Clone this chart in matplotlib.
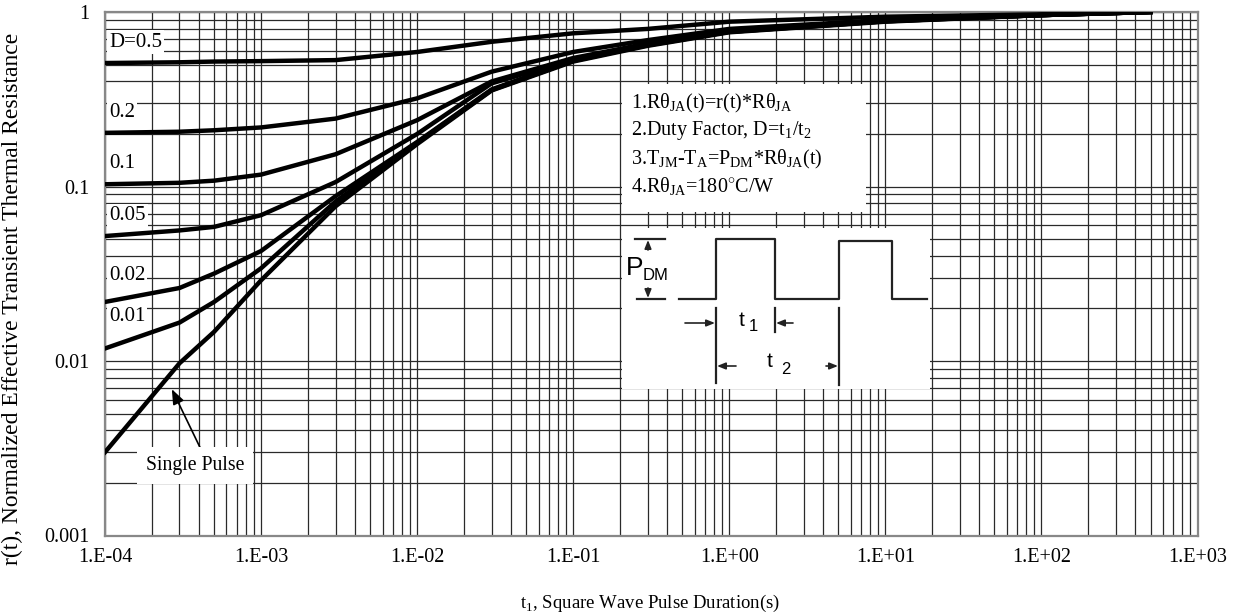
import numpy as np
import matplotlib.pyplot as plt
from matplotlib.patches import Rectangle
from matplotlib.ticker import FixedLocator, FixedFormatter, LogLocator, NullFormatter

plt.rcParams['font.family'] = ['Liberation Serif', 'DejaVu Serif']
plt.rcParams['mathtext.fontset'] = 'custom'
plt.rcParams['mathtext.rm'] = 'Liberation Serif'

# pulse duration (s)
t1 = [1e-4, 3e-4, 5e-4, 1e-3, 3e-3, 1e-2, 3e-2, 1e-1, 3e-1, 1, 10, 100, 500]

# normalized transient thermal resistance, one list per duty factor
r_d50 = [0.51, 0.515, 0.52, 0.523, 0.53, 0.59, 0.675, 0.755, 0.80, 0.88, 0.94, 0.97, 1.0]
r_d20 = [0.203, 0.206, 0.21, 0.218, 0.245, 0.32, 0.455, 0.59, 0.69, 0.80, 0.90, 0.96, 1.0]
r_d10 = [0.103, 0.105, 0.108, 0.117, 0.153, 0.24, 0.40, 0.545, 0.66, 0.78, 0.89, 0.96, 1.0]
r_d05 = [0.052, 0.056, 0.0587, 0.0685, 0.106, 0.20, 0.39, 0.535, 0.655, 0.775, 0.89, 0.96, 1.0]
r_d02 = [0.0218, 0.0262, 0.0317, 0.0427, 0.088, 0.18, 0.36, 0.53, 0.65, 0.77, 0.885, 0.96, 1.0]
r_d01 = [0.0118, 0.0166, 0.0218, 0.034, 0.082, 0.178, 0.357, 0.525, 0.645, 0.77, 0.885, 0.96, 1.0]
r_single = [0.003, 0.0097, 0.0147, 0.029, 0.077, 0.175, 0.355, 0.52, 0.64, 0.765, 0.88, 0.96, 1.0]

curves = [r_d50, r_d20, r_d10, r_d05, r_d02, r_d01, r_single]
duty_labels = ['D=0.5', '0.2', '0.1', '0.05', '0.02', '0.01']

x_ticks = [1e-4, 1e-3, 1e-2, 1e-1, 1, 10, 100, 1000]
x_ticklabels = ['1.E-04', '1.E-03', '1.E-02', '1.E-01', '1.E+00', '1.E+01', '1.E+02', '1.E+03']
y_ticks = [0.001, 0.01, 0.1, 1]
y_ticklabels = ['0.001', '0.01', '0.1', '1']

notes = [
    r'1.Rθ$_{\rm JA}$(t)=r(t)*Rθ$_{\rm JA}$',
    r'2.Duty Factor, D=t$_{1}$/t$_{2}$',
    r'3.T$_{\rm JM}$-T$_{\rm A}$=P$_{\rm DM}$*Rθ$_{\rm JA}$(t)',
    r'4.Rθ$_{\rm JA}$=180$^{\circ}$C/W',
]

W, H = 1233, 616
fig = plt.figure(figsize=(W / 100, H / 100), dpi=100)
# axes frame in pixels: x 105..1197, y 12..535
ax = fig.add_axes([105 / W, 1 - 535.5 / H, 1092.5 / W, 523.5 / H])

for r in curves:
    ax.plot(t1, r, color='black', lw=3.2, solid_joinstyle='round', zorder=4)

ax.set_xscale('log')
ax.set_yscale('log')
ax.set_xlim(1e-4, 1e3)
ax.set_ylim(1e-3, 1)

ax.xaxis.set_major_locator(FixedLocator(x_ticks))
ax.xaxis.set_major_formatter(FixedFormatter(x_ticklabels))
ax.yaxis.set_major_locator(FixedLocator(y_ticks))
ax.yaxis.set_major_formatter(FixedFormatter(y_ticklabels))
ax.xaxis.set_minor_locator(LogLocator(base=10, subs=np.arange(2, 10), numticks=20))
ax.yaxis.set_minor_locator(LogLocator(base=10, subs=np.arange(2, 10), numticks=20))
ax.xaxis.set_minor_formatter(NullFormatter())
ax.yaxis.set_minor_formatter(NullFormatter())
ax.tick_params(which='both', length=0, labelsize=14.5)
ax.tick_params(axis='x', pad=9)
ax.tick_params(axis='y', pad=11)

ax.grid(which='both', color='#2a2a2a', lw=0.9, zorder=1)
ax.set_axisbelow(True)
for s in ax.spines.values():
    s.set_color('#888888')
    s.set_linewidth(1.6)

fig.text(12 / W, 1 - 299 / H, 'r(t), Normalized Effective Transient Thermal Resistance',
         rotation=90, fontsize=17, ha='center', va='center')
fig.text(650 / W, 1 - 603 / H, r't$_{1}$, Square Wave Pulse Duration(s)',
         fontsize=13.5, ha='center', va='center')

# duty factor labels on the left
label_pos = [0.673, 0.264, 0.136, 0.0685, 0.031, 0.018]
for lab, yv in zip(duty_labels, label_pos):
    ax.text(1.06e-4, yv, lab, fontsize=15, va='center', ha='left', zorder=5,
            bbox=dict(boxstyle='square,pad=0.1', fc='white', ec='none'))

# single pulse annotation
ax.annotate('', xy=(2.68e-4, 0.0069), xytext=(4.06e-4, 0.0032),
            arrowprops=dict(arrowstyle='-|>,head_length=0.9,head_width=0.35',
                            color='black', lw=1.2, shrinkA=0, shrinkB=0), zorder=5)
ax.text(3.78e-4, 0.00252, 'Single Pulse', fontsize=14.2, ha='center', va='center', zorder=5,
        bbox=dict(boxstyle='square,pad=0.45', fc='white', ec='none'))


def ax_xy(px, py):
    return (px - 105) / 1092.5, (535.5 - py) / 523.5


# notes box
x0, y0 = ax_xy(622, 212)
x1, y1 = ax_xy(866, 84)
ax.add_patch(Rectangle((x0, y0), x1 - x0, y1 - y0, transform=ax.transAxes,
                       fc='white', ec='none', zorder=3))
for i, line in enumerate(notes):
    tx, ty = ax_xy(631, 103 + 28 * i)
    ax.text(tx, ty, line, transform=ax.transAxes, fontsize=14.5, va='center', ha='left', zorder=5)

# pulse diagram inset (drawn in its own pixel-like frame)
ix = fig.add_axes([622 / W, 1 - 389 / H, (930 - 622) / W, (389 - 228) / H])
ix.set_xlim(622, 930)
ix.set_ylim(389, 228)
ix.axis('off')
ix.add_patch(Rectangle((622, 228), 308, 161, fc='white', ec='none', zorder=0))
lk = dict(color='#222222', lw=1.6)
ix.plot([679, 716, 716, 775, 775, 839, 839, 892, 892, 927],
        [299, 299, 239, 239, 299, 299, 241, 241, 299, 299], **lk)
# P_DM marker
ix.plot([635, 665], [239, 239], **lk)
ix.plot([637, 665], [299, 299], **lk)
ax_arrow = dict(arrowstyle='-|>,head_length=0.5,head_width=0.2', color='#222222', lw=1.2,
                shrinkA=0, shrinkB=0)
sans = ['Liberation Sans', 'DejaVu Sans']
ix.annotate('', xy=(648, 240), xytext=(648, 250), arrowprops=ax_arrow)
ix.annotate('', xy=(648, 298), xytext=(648, 288), arrowprops=ax_arrow)
ix.text(626, 268, 'P', fontsize=19, family=sans, va='center', ha='left')
ix.text(643, 276, 'DM', fontsize=12, family=sans, va='center', ha='left')
# t1 / t2 markers
ix.plot([716, 716], [308, 383], **lk)
ix.plot([775, 775], [308, 332], **lk)
ix.plot([839, 839], [308, 385], **lk)
ix.annotate('', xy=(715, 323), xytext=(685, 323), arrowprops=ax_arrow)
ix.annotate('', xy=(776, 323), xytext=(793, 323), arrowprops=ax_arrow)
ix.annotate('', xy=(717, 366), xytext=(736, 366), arrowprops=ax_arrow)
ix.annotate('', xy=(838, 366), xytext=(826, 366), arrowprops=ax_arrow)
ix.text(739, 321, 't', fontsize=15, family=sans, va='center', ha='left')
ix.text(749, 327, '1', fontsize=12, family=sans, va='center', ha='left')
ix.text(767, 362, 't', fontsize=15, family=sans, va='center', ha='left')
ix.text(781, 370, '2', fontsize=12, family=sans, va='center', ha='left')

fig.savefig('out.png', dpi=100)
